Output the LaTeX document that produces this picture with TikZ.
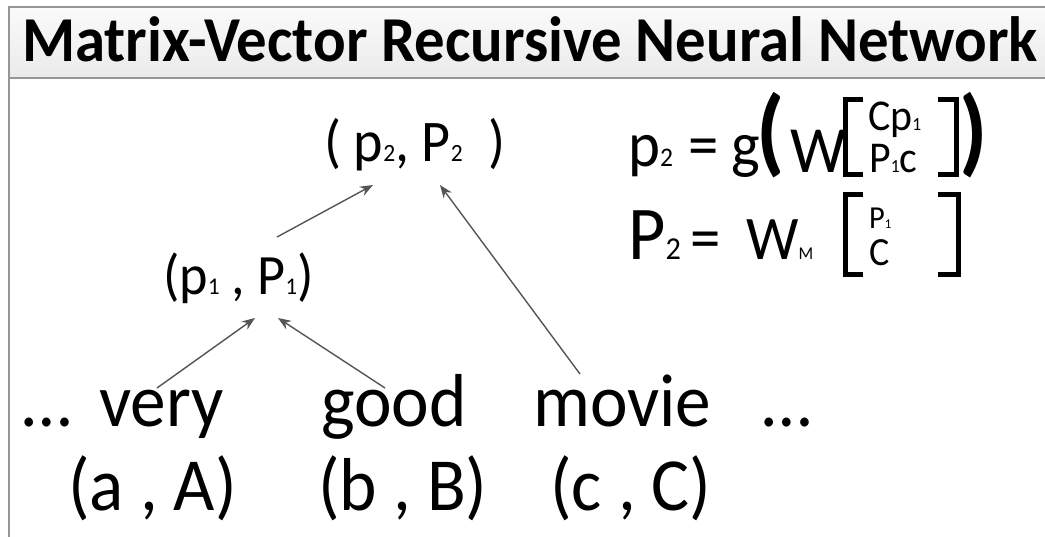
\documentclass[tikz,border=0pt]{standalone}
\usepackage{fontspec}
\setmainfont{Carlito}[FakeStretch=0.95]
\usepackage{graphicx}
\usetikzlibrary{arrows.meta,positioning,calc}
\definecolor{arrgray}{RGB}{85,85,85}
\definecolor{framegray}{RGB}{150,150,150}
\newcommand{\sm}[1]{\scalebox{0.42}{#1}}
\tikzset{
  txt/.style={inner sep=0pt,anchor=base west,font=\fontsize{#1}{#1}\selectfont},
  txt/.default=75,
  bigpar/.style={inner sep=0pt,anchor=base west,font=\fontsize{96}{96}\selectfont\bfseries},
  brk/.style={line width=5pt,line cap=butt,line join=miter},
  arr/.style={-{Stealth[length=13pt,width=10pt]},line width=1.4pt,color=arrgray},
}

\begin{document}
\begin{tikzpicture}[x=1pt,y=-1pt]
  \useasboundingbox (0,0) rectangle (1045,537);
  % title bar
  \shade[top color=gray!4,bottom color=gray!16] (9,7) rectangle (1045,78);
  \draw[framegray,line width=1.2pt] (1045,7) -- (9,7) -- (9,537);
  \draw[framegray,line width=1.2pt] (9,78) -- (1045,78);
  \node[inner sep=0pt,anchor=base,font=\fontsize{64}{64}\selectfont\bfseries] (title) at (530,62) {Matrix-Vector Recursive Neural Network};

  % words and their pairs
  \node[txt] (ldots) at (22,427) {…};
  \node[txt] (very) at (99,427) {very};
  \node[txt] (good) at (321,427) {good};
  \node[txt] (movie) at (533,427) {movie};
  \node[txt] (rdots) at (762,427) {…};
  \node[txt] (pa) at (68,510) {(a , A)};
  \node[txt] (pb) at (318,510) {(b , B)};
  \node[txt] (pc) at (550,510) {(c , C)};

  % parents
  \node[txt=57] (p1) at (163,295) {(p\sm{1} , P\sm{1})};
  \node[txt=59] (p2) at (324,162) {( p\sm{2}, P\sm{2}\ \ )};

  % equations
  \node[txt=64] (pa2) at (628,167) {p\sm{2}};
  \node[txt=64] (eqa) at (688,167) {=};
  \node[txt=64] (ga) at (731,167) {g};
  \node[bigpar] (lpar) at (756,164) {(};
  \node[txt=66] (wa) at (790,173) {W};
  \draw[brk] (863,99.5) -- (845,99.5) -- (845,174.5) -- (863,174.5);
  \node[txt=44] (cp) at (868,131) {Cp\sm{1}};
  \node[txt=44] (pc1) at (869,173) {P\sm{1}c};
  \draw[brk] (938,99.5) -- (956,99.5) -- (956,174.5) -- (938,174.5);
  \node[bigpar] (rpar) at (959,164) {)};

  \node[txt=76] (pb2) at (628,260) {P\sm{2}};
  \node[txt=64] (eqb) at (690,260) {=};
  \node[txt=62] (wm) at (746,260) {W{\fontsize{18}{18}\selectfont M}};
  \draw[brk] (863,194.5) -- (845,194.5) -- (845,274.5) -- (863,274.5);
  \node[txt=32] (pp) at (869,229) {P\sm{1}};
  \node[txt=40] (cc) at (869,266) {C};
  \draw[brk] (938,194.5) -- (958,194.5) -- (958,274.5) -- (938,274.5);

  % tree arrows
  \draw[arr] ($(very.base west)+(58,-39)$) -- ($(p1.base west)+(92,23)$);
  \draw[arr] ($(good.base west)+(64,-39)$) -- ($(p1.base west)+(115,23)$);
  \draw[arr] ($(p1.base west)+(114,-58)$) -- ($(p2.base west)+(49,23)$);
  \draw[arr] ($(movie.base west)+(47,-53)$) -- ($(p2.base west)+(116,23)$);
\end{tikzpicture}
\end{document}
